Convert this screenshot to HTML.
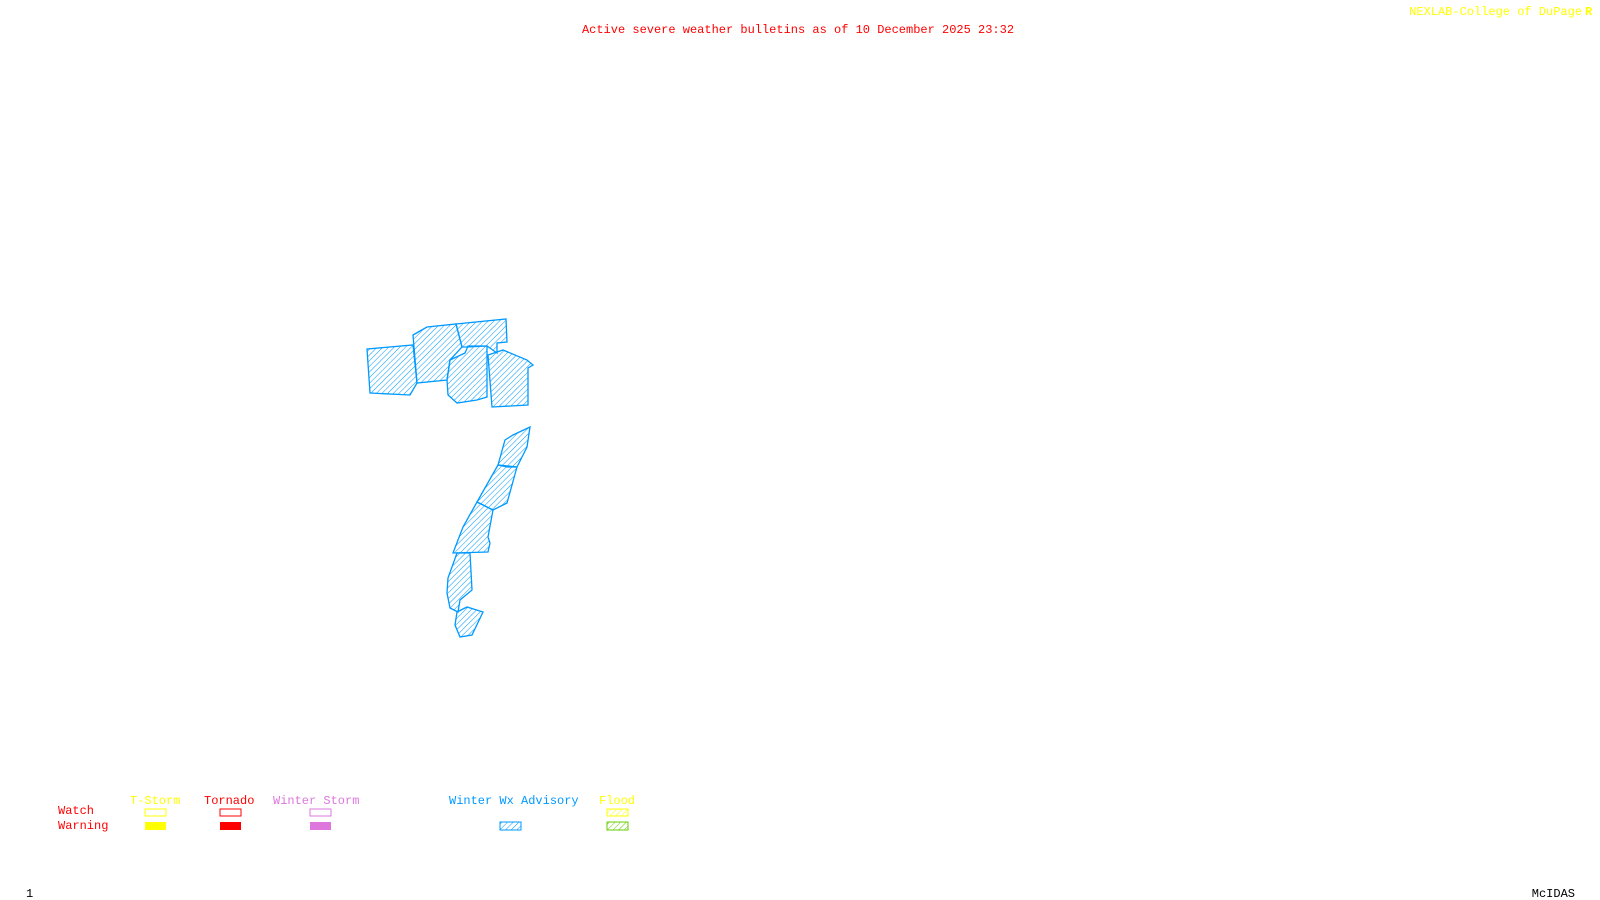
<!DOCTYPE html>
<html><head><meta charset="utf-8"><style>
html,body{margin:0;padding:0;background:#fff;width:1600px;height:900px;overflow:hidden}
svg{display:block}
text{font-family:"Liberation Mono",monospace;font-size:12px}
</style></head><body>
<svg width="1600" height="900" viewBox="0 0 1600 900" xmlns="http://www.w3.org/2000/svg">
<defs>
<pattern id="h" width="4" height="4" patternUnits="userSpaceOnUse" patternTransform="rotate(45)">
<line x1="0" y1="0" x2="0" y2="4" stroke="#0099ff" stroke-width="1"/></pattern>
<pattern id="hy" width="4" height="4" patternUnits="userSpaceOnUse" patternTransform="rotate(45)">
<line x1="0" y1="0" x2="0" y2="4" stroke="#ffff00" stroke-width="1"/></pattern>
<pattern id="hg" width="4" height="4" patternUnits="userSpaceOnUse" patternTransform="rotate(45)">
<line x1="0" y1="0" x2="0" y2="4" stroke="#66cc00" stroke-width="1"/></pattern>
</defs>
<text x="798" y="33" fill="#ff0000" text-anchor="middle">Active severe weather bulletins as of 10 December 2025 23:32</text>
<text x="1582" y="15" fill="#ffff00" text-anchor="end">NEXLAB-College of DuPage</text>
<text x="1585" y="15" fill="#ffff00" font-weight="bold">R</text>
<g fill="url(#h)" stroke="#0099ff" stroke-width="1.3">
<polygon points="367,349 413,345 417,383 410,395 370,393"/>
<polygon points="413,335 427,327 456,324 462,347 450,360 447,380 417,383"/>
<polygon points="456,324 506,319 507,342 497,343 497,353 487,346 467,347 462,347"/>
<polygon points="450,360 465,353 468,346 487,346 487,397 477,400 457,403 448,395 447,380"/>
<polygon points="488,355 503,350 527,360 533,365 528,368 528,405 492,407"/>
<polygon points="530,427 527,447 517,467 507,467 498,465 505,440 513,435"/>
<polygon points="517,467 507,503 493,510 477,502 498,465"/>
<polygon points="477,502 493,510 488,537 490,543 488,552 453,553 463,527"/>
<polygon points="457,553 470,553 472,590 460,600 458,612 450,608 447,593 448,578"/>
<polygon points="457,612 467,607 483,612 472,635 460,637 455,625"/>
</g>
<text x="58" y="814" fill="#ff0000">Watch</text>
<text x="58" y="829" fill="#ff0000">Warning</text>
<text x="130" y="804" fill="#ffff00">T-Storm</text>
<text x="204" y="804" fill="#ff0000">Tornado</text>
<text x="273" y="804" fill="#dd77dd">Winter Storm</text>
<text x="449" y="804" fill="#0099ff">Winter Wx Advisory</text>
<text x="599" y="804" fill="#ffff00">Flood</text>
<rect x="145" y="809" width="21" height="7" fill="none" stroke="#ffff00"/>
<rect x="145" y="822" width="21" height="8" fill="#ffff00"/>
<rect x="220" y="809" width="21" height="7" fill="none" stroke="#ff0000"/>
<rect x="220" y="822" width="21" height="8" fill="#ff0000"/>
<rect x="310" y="809" width="21" height="7" fill="none" stroke="#dd77dd"/>
<rect x="310" y="822" width="21" height="8" fill="#dd77dd"/>
<rect x="500" y="822" width="21" height="8" fill="url(#h)" stroke="#0099ff"/>
<rect x="607" y="809" width="21" height="7" fill="url(#hy)" stroke="#ffff00"/>
<rect x="607" y="822" width="21" height="8" fill="url(#hg)" stroke="#66cc00"/>
<text x="26" y="897" fill="#000">1</text>
<text x="1575" y="897" fill="#000" text-anchor="end">McIDAS</text>
</svg>
</body></html>
